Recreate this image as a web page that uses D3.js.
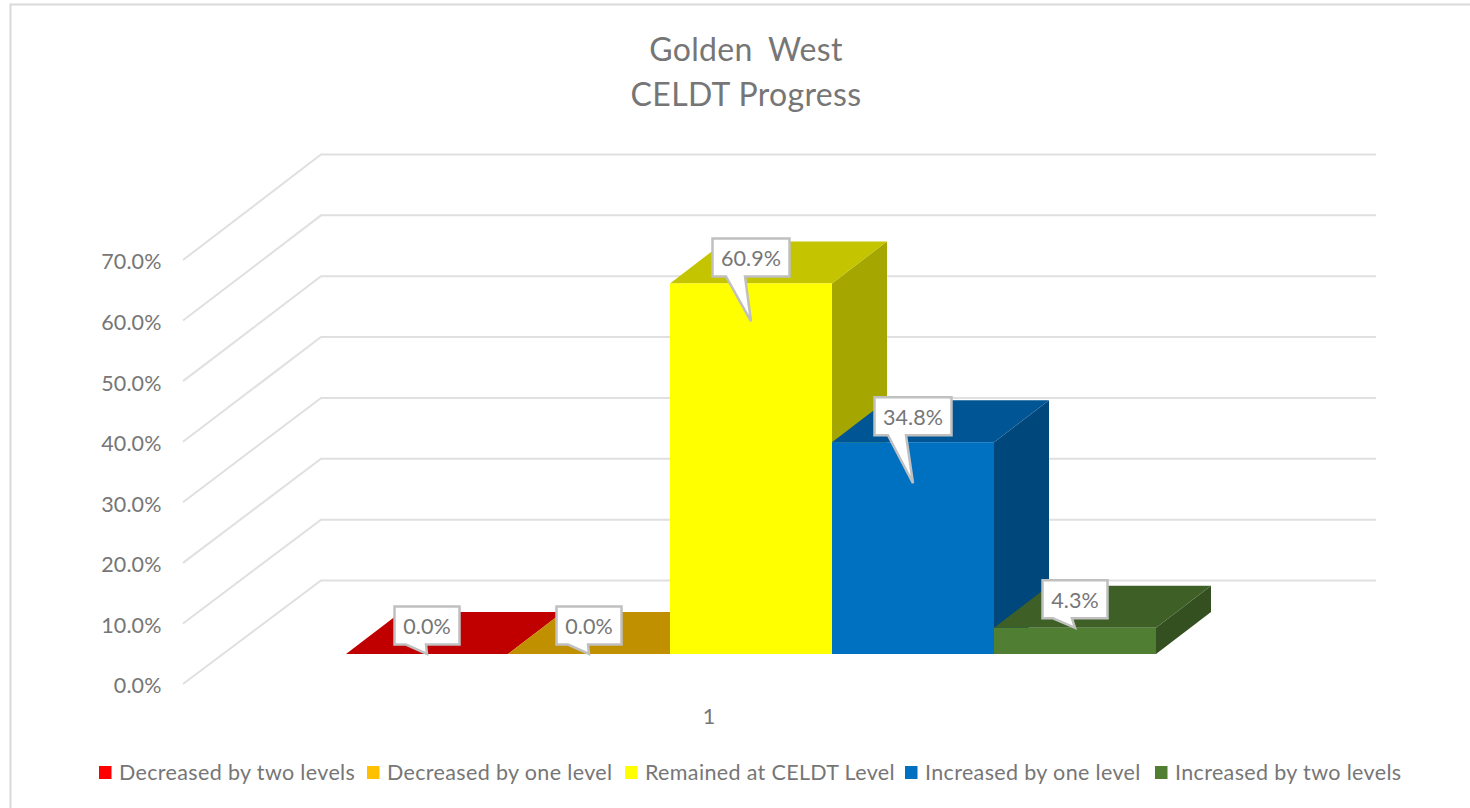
<!DOCTYPE html>
<html>
<head>
<meta charset="utf-8">
<script src="https://cdn.jsdelivr.net/npm/d3@7/dist/d3.min.js"></script>
<style>
  html, body { margin: 0; padding: 0; background: #fff; }
  svg { display: block; }
  text { font-family: Lato, "Open Sans", sans-serif; fill: #767676; }
</style>
</head>
<body>
<svg id="chart" width="1470" height="808"></svg>
<script>
// Chart content
const titleLines = ["Golden West", "CELDT Progress"];
const categoryLabel = "1";
const seriesNames = ["Decreased by two levels", "Decreased by one level", "Remained at CELDT Level", "Increased by one level", "Increased by two levels"];
const seriesValues = [0.0, 0.0, 60.9, 34.8, 4.3];
const axisTicks = [0, 10, 20, 30, 40, 50, 60, 70];

// Face colours for each box: legend / front, top, side
const frontColors = ["#ff0000", "#ffc000", "#ffff00", "#0070c0", "#507e32"];
const topColors = ["#c00000", "#c09000", "#c4c400", "#005694", "#3e6027"];
const sideColors = ["#a80000", "#a67c00", "#a6a600", "#00487c", "#344f20"];

// How far below the box's front top edge each callout's pointer reaches
const pointerDrop = [0, 0, 38, 41, 0];
const pointerBase = [[-21, -1], [-21, -1], [-25, -6], [-25, -7], [-22, -3]];
const legendSwatchX = [99, 367, 625, 905, 1155];

const svg = d3.select("#chart");
const fmt = v => d3.format(".1f")(v) + "%";
const labelSize = 21.5, labelSpacing = 0.35;

// Outer chart frame
svg.append("path")
  .attr("d", "M10.5,808V4.5H1470")
  .attr("fill", "none").attr("stroke", "#d9d9d9").attr("stroke-width", 2);

// Title
svg.append("g").selectAll("text").data(titleLines).join("text")
  .attr("x", 746).attr("y", (d, i) => 50 + i * 45)
  .attr("dy", "0.35em").attr("text-anchor", "middle")
  .attr("font-size", 32).attr("letter-spacing", 0.35).attr("word-spacing", (d, i) => i === 0 ? 7 : 0)
  .text(d => d);

// 3D projection: walls at the side plane and at the back plane
const wallFront = d3.scaleLinear().domain([0, 70]).range([684, 260]);
const wallBack = d3.scaleLinear().domain([0, 70]).range([580.5, 154.5]);
const wallLeft = 183, wallCorner = 321, wallRight = 1376;

svg.append("g").selectAll("path").data(axisTicks).join("path")
  .attr("d", t => d3.line()([[wallLeft, wallFront(t)], [wallCorner, wallBack(t)], [wallRight, wallBack(t)]]))
  .attr("fill", "none").attr("stroke", "#e0e0e0").attr("stroke-width", 2);

// Value axis labels
const yAxis = d3.axisLeft(wallFront).tickValues(axisTicks).tickFormat(fmt).tickSize(0).tickPadding(0);
const axisG = svg.append("g").attr("transform", "translate(161.5,2)").call(yAxis);
axisG.select(".domain").remove();
axisG.selectAll("text").attr("font-size", labelSize).attr("letter-spacing", 0.1)
  .style("font-family", "Lato, sans-serif").style("fill", "#767676");

// Boxes: front plane scales plus a fixed depth offset
const x = d3.scaleBand().domain(seriesNames).range([346, 1156]).padding(0);
const barY = d3.scaleLinear().domain([0, 70]).range([654, 654 - 426]);
const depthX = 55, depthY = 42;
const line = d3.line();
const bars = seriesNames.map((name, i) => ({
  name, i, value: seriesValues[i],
  x0: x(name), x1: x(name) + x.bandwidth(), top: barY(seriesValues[i]), base: barY(0)
}));

const boxes = svg.append("g").selectAll("g").data(bars).join("g");
boxes.filter(b => b.value > 0).append("path")
  .attr("d", b => line([[b.x1, b.base], [b.x1 + depthX, b.base - depthY], [b.x1 + depthX, b.top - depthY], [b.x1, b.top]]) + "Z")
  .attr("fill", b => sideColors[b.i]);
boxes.append("path")
  .attr("d", b => line([[b.x0, b.top], [b.x0 + depthX, b.top - depthY], [b.x1 + depthX, b.top - depthY], [b.x1, b.top]]) + "Z")
  .attr("fill", b => topColors[b.i]);
boxes.filter(b => b.value > 0).append("rect")
  .attr("x", b => b.x0).attr("y", b => b.top)
  .attr("width", x.bandwidth()).attr("height", b => b.base - b.top)
  .attr("fill", b => frontColors[b.i]);

// Category label
svg.append("text").attr("x", 709).attr("y", 716).attr("dy", "0.35em")
  .attr("text-anchor", "middle").attr("font-size", labelSize).text(categoryLabel);

// Callout data labels
const callouts = svg.append("g").selectAll("g").data(bars).join("g")
  .attr("transform", b => `translate(${b.x0 + x.bandwidth() / 2},${b.top})`);
callouts.append("path")
  .attr("d", b => {
    const w = fmt(b.value).length > 4 ? 38.5 : 32.5;
    const t = b.value >= 10 ? -45 : -47.5, h = 38;
    const [p0, p1] = pointerBase[b.i];
    return line([[-w, t], [w, t], [w, t + h], [p1, t + h], [0, pointerDrop[b.i]], [p0, t + h], [-w, t + h]]) + "Z";
  })
  .attr("fill", "#fff").attr("stroke", "#c0c0c0").attr("stroke-width", 2.5).attr("stroke-linejoin", "miter");
callouts.append("text")
  .attr("y", b => (b.value >= 10 ? -45 : -47.5) + 20).attr("dy", "0.35em")
  .attr("text-anchor", "middle").attr("font-size", labelSize).attr("letter-spacing", 0.1)
  .text(b => fmt(b.value));

// Legend
const legend = svg.append("g").selectAll("g").data(seriesNames).join("g")
  .attr("transform", (d, i) => `translate(${legendSwatchX[i]},772)`);
legend.append("rect").attr("x", 0).attr("y", -6).attr("width", 12.5).attr("height", 13)
  .attr("fill", (d, i) => frontColors[i]);
legend.append("text").attr("x", 20).attr("dy", "0.35em").attr("font-size", labelSize)
  .attr("letter-spacing", labelSpacing).text(d => d);
</script>
</body>
</html>
